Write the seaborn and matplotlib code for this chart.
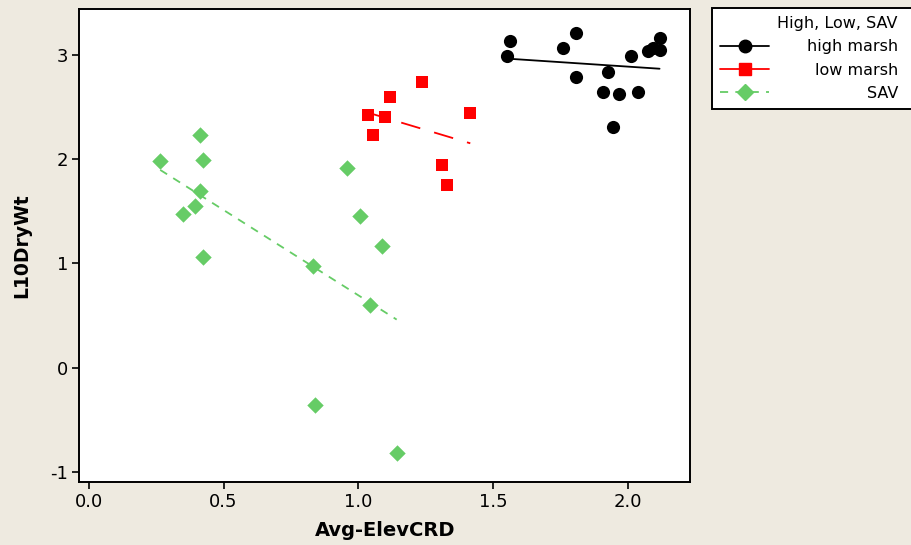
import numpy as np
import pandas as pd
import matplotlib
matplotlib.use("Agg")
import matplotlib.pyplot as plt
import seaborn as sns
from matplotlib.lines import Line2D
from matplotlib.patches import Rectangle

# ---- data ----
high_x = [1.561, 1.552, 1.758, 1.808, 1.808, 1.925, 1.907, 1.968, 2.036, 2.012, 1.944, 2.073, 2.092, 2.117, 2.117]
high_y = [3.133, 2.996, 3.073, 3.212, 2.786, 2.834, 2.643, 2.627, 2.643, 2.990, 2.309, 3.037, 3.073, 3.168, 3.053]

low_x = [1.037, 1.099, 1.056, 1.118, 1.235, 1.415, 1.309, 1.328]
low_y = [2.427, 2.410, 2.236, 2.601, 2.744, 2.443, 1.949, 1.758]

sav_x = [0.265, 0.413, 0.425, 0.413, 0.395, 0.351, 0.425, 0.957, 1.007, 1.087, 0.833, 1.044, 0.840, 1.142]
sav_y = [1.981, 2.236, 1.997, 1.695, 1.552, 1.472, 1.059, 1.918, 1.456, 1.170, 0.979, 0.597, -0.357, -0.824]

groups = ["high marsh", "low marsh", "SAV"]
legend_title = "High, Low, SAV"
x_ticks = [0.0, 0.5, 1.0, 1.5, 2.0]
y_ticks = [-1, 0, 1, 2, 3]

df = pd.DataFrame({
    "Avg-ElevCRD": high_x + low_x + sav_x,
    "L10DryWt": high_y + low_y + sav_y,
    "group": [groups[0]] * len(high_x) + [groups[1]] * len(low_x) + [groups[2]] * len(sav_x),
})

# ---- style ----
bg = "#EEEAE0"
colors = {"high marsh": "#000000", "low marsh": "#FF0000", "SAV": "#66CC66"}
markers = {"high marsh": "o", "low marsh": "s", "SAV": "D"}
msizes = {"high marsh": 90, "low marsh": 78, "SAV": 70}
lstyles = {"high marsh": "-", "low marsh": (0, (11, 8)), "SAV": (0, (4.5, 4))}
leg_styles = {"high marsh": "-", "low marsh": "-", "SAV": (0, (4.5, 4))}

sns.set_theme(style="white")
plt.rcParams["font.family"] = ["DejaVu Sans"]
plt.rcParams["text.color"] = "black"

fig = plt.figure(figsize=(9.12, 5.45), dpi=100, facecolor=bg)
ax = fig.add_axes([0.087, 0.1156, 0.6696, 0.8684])
ax.set_facecolor("white")

for g in groups:
    sub = df[df["group"] == g]
    sns.regplot(data=sub, x="Avg-ElevCRD", y="L10DryWt", ax=ax, scatter=False, ci=None,
                truncate=True,
                line_kws=dict(color=colors[g], lw=1.3, linestyle=lstyles[g]))
    sns.scatterplot(data=sub, x="Avg-ElevCRD", y="L10DryWt", ax=ax, marker=markers[g],
                    color=colors[g], s=msizes[g], linewidth=0, legend=False, zorder=3)

ax.set_xlim(-0.035, 2.230)
ax.set_ylim(-1.098, 3.446)
ax.set_xticks(x_ticks)
ax.set_xticklabels([f"{v:.1f}" for v in x_ticks])
ax.set_yticks(y_ticks)
ax.set_yticklabels([str(v) for v in y_ticks])
ax.tick_params(axis="both", direction="out", length=5, width=1.2, colors="black",
               labelsize=13, bottom=True, left=True, pad=3)
for sp in ax.spines.values():
    sp.set_visible(True)
    sp.set_color("black")
    sp.set_linewidth(1.4)

ax.set_xlabel("Avg-ElevCRD", fontsize=14, fontweight="bold", color="black", labelpad=7)
ax.set_ylabel("L10DryWt", fontsize=13.5, fontweight="bold", color="black", labelpad=13.7)

# ---- legend ----
fs = 11.5
handles = [Line2D([0], [0], color=colors[g], marker=markers[g], linestyle=leg_styles[g], lw=1.3,
                  markersize=(9 if g != "SAV" else 8.5)) for g in groups]
leg = fig.legend(handles, groups, title=legend_title, loc="upper left",
                 bbox_to_anchor=(712 / 912, 1 - 8 / 545), frameon=False,
                 fontsize=fs, title_fontsize=fs,
                 handlelength=3.1, numpoints=1, labelspacing=0.52, borderpad=0.5,
                 handletextpad=0.8, alignment="right", borderaxespad=0)
leg.set_zorder(6)

fig.canvas.draw()
renderer = fig.canvas.get_renderer()
lbb = leg.get_window_extent(renderer)
W = fig.bbox.width
# frame running off the right edge as in the reference
fig.patches.append(Rectangle((lbb.x0, lbb.y0), W + 10 - lbb.x0, lbb.height, transform=None,
                             facecolor="white", edgecolor="black", linewidth=1.4, zorder=1))
# right-aligned title and entry labels
x_right = W - 14
title = leg.get_title()
tb = title.get_window_extent(renderer)
title.set_alpha(0)
fig.text(x_right, (tb.y0 + tb.y1) / 2, legend_title, transform=None, ha="right", va="center",
         fontsize=fs, color="black", zorder=10)
for t in leg.get_texts():
    bb = t.get_window_extent(renderer)
    t.set_alpha(0)
    fig.text(x_right, (bb.y0 + bb.y1) / 2, t.get_text(), transform=None,
             ha="right", va="center", fontsize=fs, color="black", zorder=10)

fig.savefig("out.png", dpi=100, facecolor=bg)
